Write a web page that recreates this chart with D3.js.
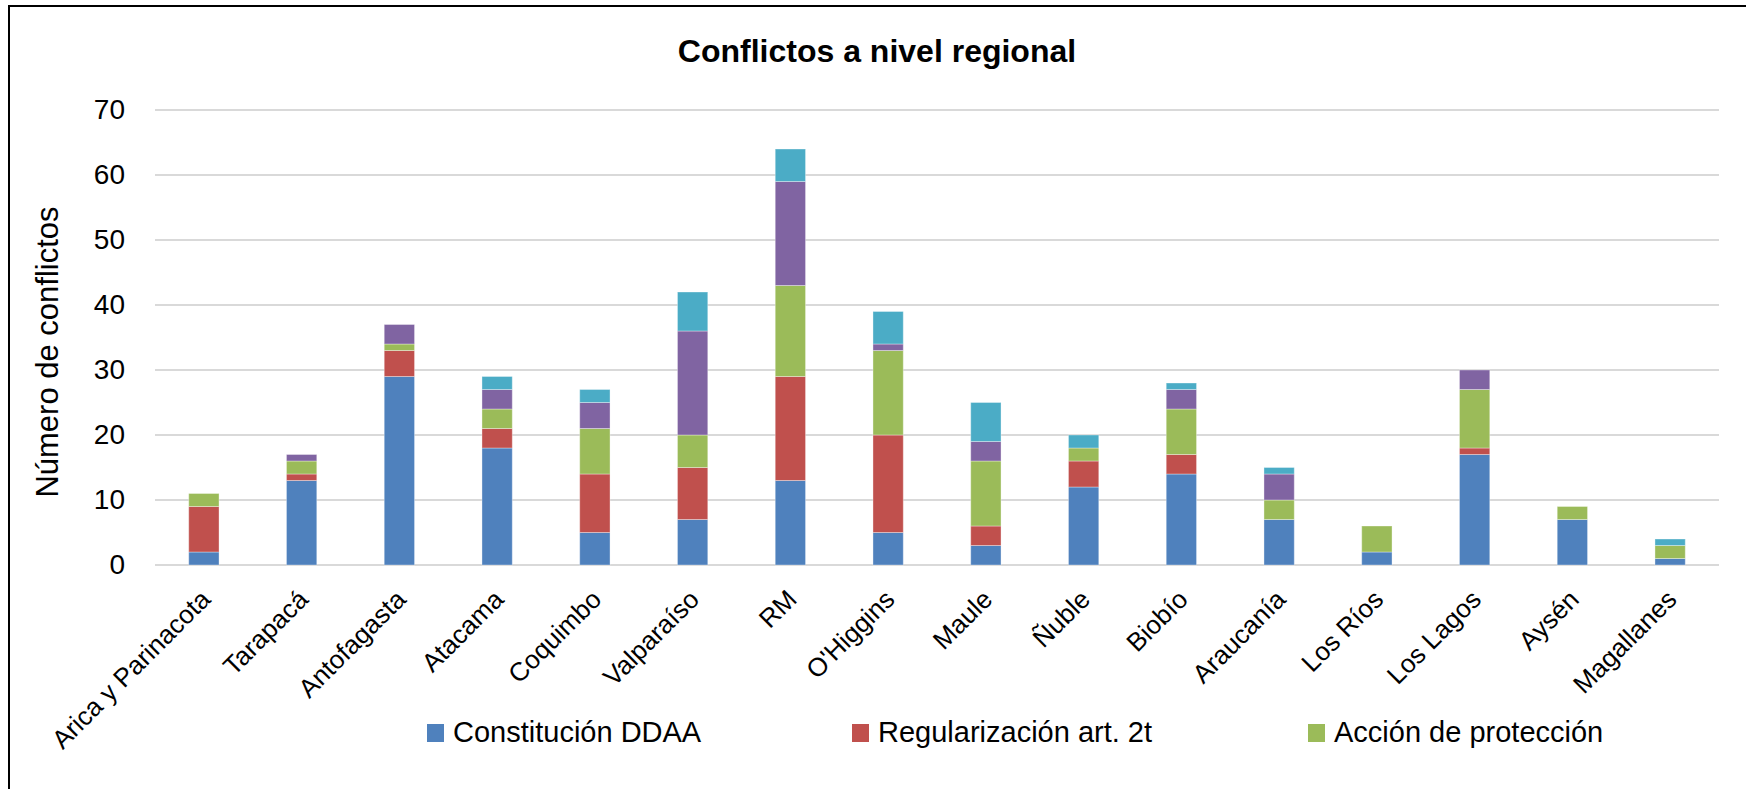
<!DOCTYPE html>
<html>
<head>
<meta charset="utf-8">
<script src="https://cdn.jsdelivr.net/npm/d3@7"></script>
<style>
  html, body { margin: 0; padding: 0; background: #ffffff; overflow: hidden; }
  svg { display: block; font-family: "Liberation Sans", Arial, sans-serif; }
</style>
</head>
<body>
<svg id="chart" width="1746" height="789"></svg>
<script>
// ---- Data ----
const regions = ["Arica y Parinacota", "Tarapacá", "Antofagasta", "Atacama", "Coquimbo",
  "Valparaíso", "RM", "O'Higgins", "Maule", "Ñuble", "Biobío", "Araucanía",
  "Los Ríos", "Los Lagos", "Aysén", "Magallanes"];
const seriesNames = ["Constitución DDAA", "Regularización art. 2t", "Acción de protección", "Serie 4", "Serie 5"];
const constitucion = [2, 13, 29, 18, 5, 7, 13, 5, 3, 12, 14, 7, 2, 17, 7, 1];
const regularizacion = [7, 1, 4, 3, 9, 8, 16, 15, 3, 4, 3, 0, 0, 1, 0, 0];
const accion = [2, 2, 1, 3, 7, 5, 14, 13, 10, 2, 7, 3, 4, 9, 2, 2];
const serie4 = [0, 1, 3, 3, 4, 16, 16, 1, 3, 0, 3, 4, 0, 3, 0, 0];
const serie5 = [0, 0, 0, 2, 2, 6, 5, 5, 6, 2, 1, 1, 0, 0, 0, 1];
const legendNames = ["Constitución DDAA", "Regularización art. 2t", "Acción de protección"];
const yTicks = [0, 10, 20, 30, 40, 50, 60, 70];
const colors = ["#4F81BD", "#C0504D", "#9BBB59", "#8064A2", "#4BACC6"];

// ---- Build table ----
const allSeries = [constitucion, regularizacion, accion, serie4, serie5];
const table = regions.map((r, i) => {
  const o = { region: r };
  seriesNames.forEach((s, k) => { o[s] = allSeries[k][i]; });
  return o;
});
const stacked = d3.stack().keys(seriesNames)(table);

const svg = d3.select("#chart");

// Chart border (only top and left are inside the picture)
svg.append("path")
  .attr("d", "M9,800 L9,6 L1760,6")
  .attr("fill", "none").attr("stroke", "#000").attr("stroke-width", 2);

const x = d3.scaleBand().domain(regions).range([155, 1719]).paddingInner(0.69).paddingOuter(0.345);
const y = d3.scaleLinear().domain([0, 70]).range([565, 110]);

// gridlines
svg.append("g").selectAll("line").data(yTicks).join("line")
  .attr("x1", 155).attr("x2", 1719)
  .attr("y1", d => y(d)).attr("y2", d => y(d))
  .attr("stroke", "#D9D9D9").attr("stroke-width", 2);

// y axis labels
const yAxis = d3.axisLeft(y).tickValues(yTicks).tickSize(0).tickPadding(0);
const gy = svg.append("g").attr("transform", "translate(125,0)").call(yAxis);
gy.select(".domain").remove();
gy.selectAll("text").attr("font-size", 28).attr("fill", "#000")
  .attr("font-family", "Liberation Sans, Arial, sans-serif");

// bars
svg.append("g").selectAll("g").data(stacked).join("g")
  .attr("fill", (d, i) => colors[i])
  .selectAll("rect").data(d => d.filter(p => p[1] - p[0] > 0)).join("rect")
  .attr("x", d => x(d.data.region))
  .attr("width", x.bandwidth())
  .attr("y", d => y(d[1]))
  .attr("height", d => y(d[0]) - y(d[1]))
  .attr("stroke", "rgba(255,255,255,0.35)").attr("stroke-width", 1);

// x axis labels
const xAxis = d3.axisBottom(x).tickSize(0).tickPadding(0);
const gx = svg.append("g").attr("transform", "translate(0,565)").call(xAxis);
gx.select(".domain").remove();
gx.selectAll("text")
  .attr("font-size", 26).attr("fill", "#000")
  .attr("font-family", "Liberation Sans, Arial, sans-serif")
  .attr("text-anchor", "end")
  .attr("transform", "translate(8,36) rotate(-45)")
  .attr("dy", "0");

// title
svg.append("text").attr("x", 877).attr("y", 62).attr("text-anchor", "middle")
  .attr("font-size", 32).attr("font-weight", "bold").attr("fill", "#000")
  .text("Conflictos a nivel regional");

// y axis title
svg.append("text").attr("transform", "translate(58,352) rotate(-90)")
  .attr("text-anchor", "middle").attr("font-size", 31).attr("fill", "#000")
  .text("Número de conflictos");

// legend
const legendX = [427, 852, 1308];
const lg = svg.append("g").selectAll("g").data(legendNames).join("g")
  .attr("transform", (d, i) => `translate(${legendX[i]},0)`);
lg.append("rect").attr("x", 0).attr("y", 724).attr("width", 17).attr("height", 18)
  .attr("fill", (d, i) => colors[i]);
lg.append("text").attr("x", 26).attr("y", 742).attr("font-size", 29).attr("fill", "#000")
  .text(d => d);
</script>
</body>
</html>
